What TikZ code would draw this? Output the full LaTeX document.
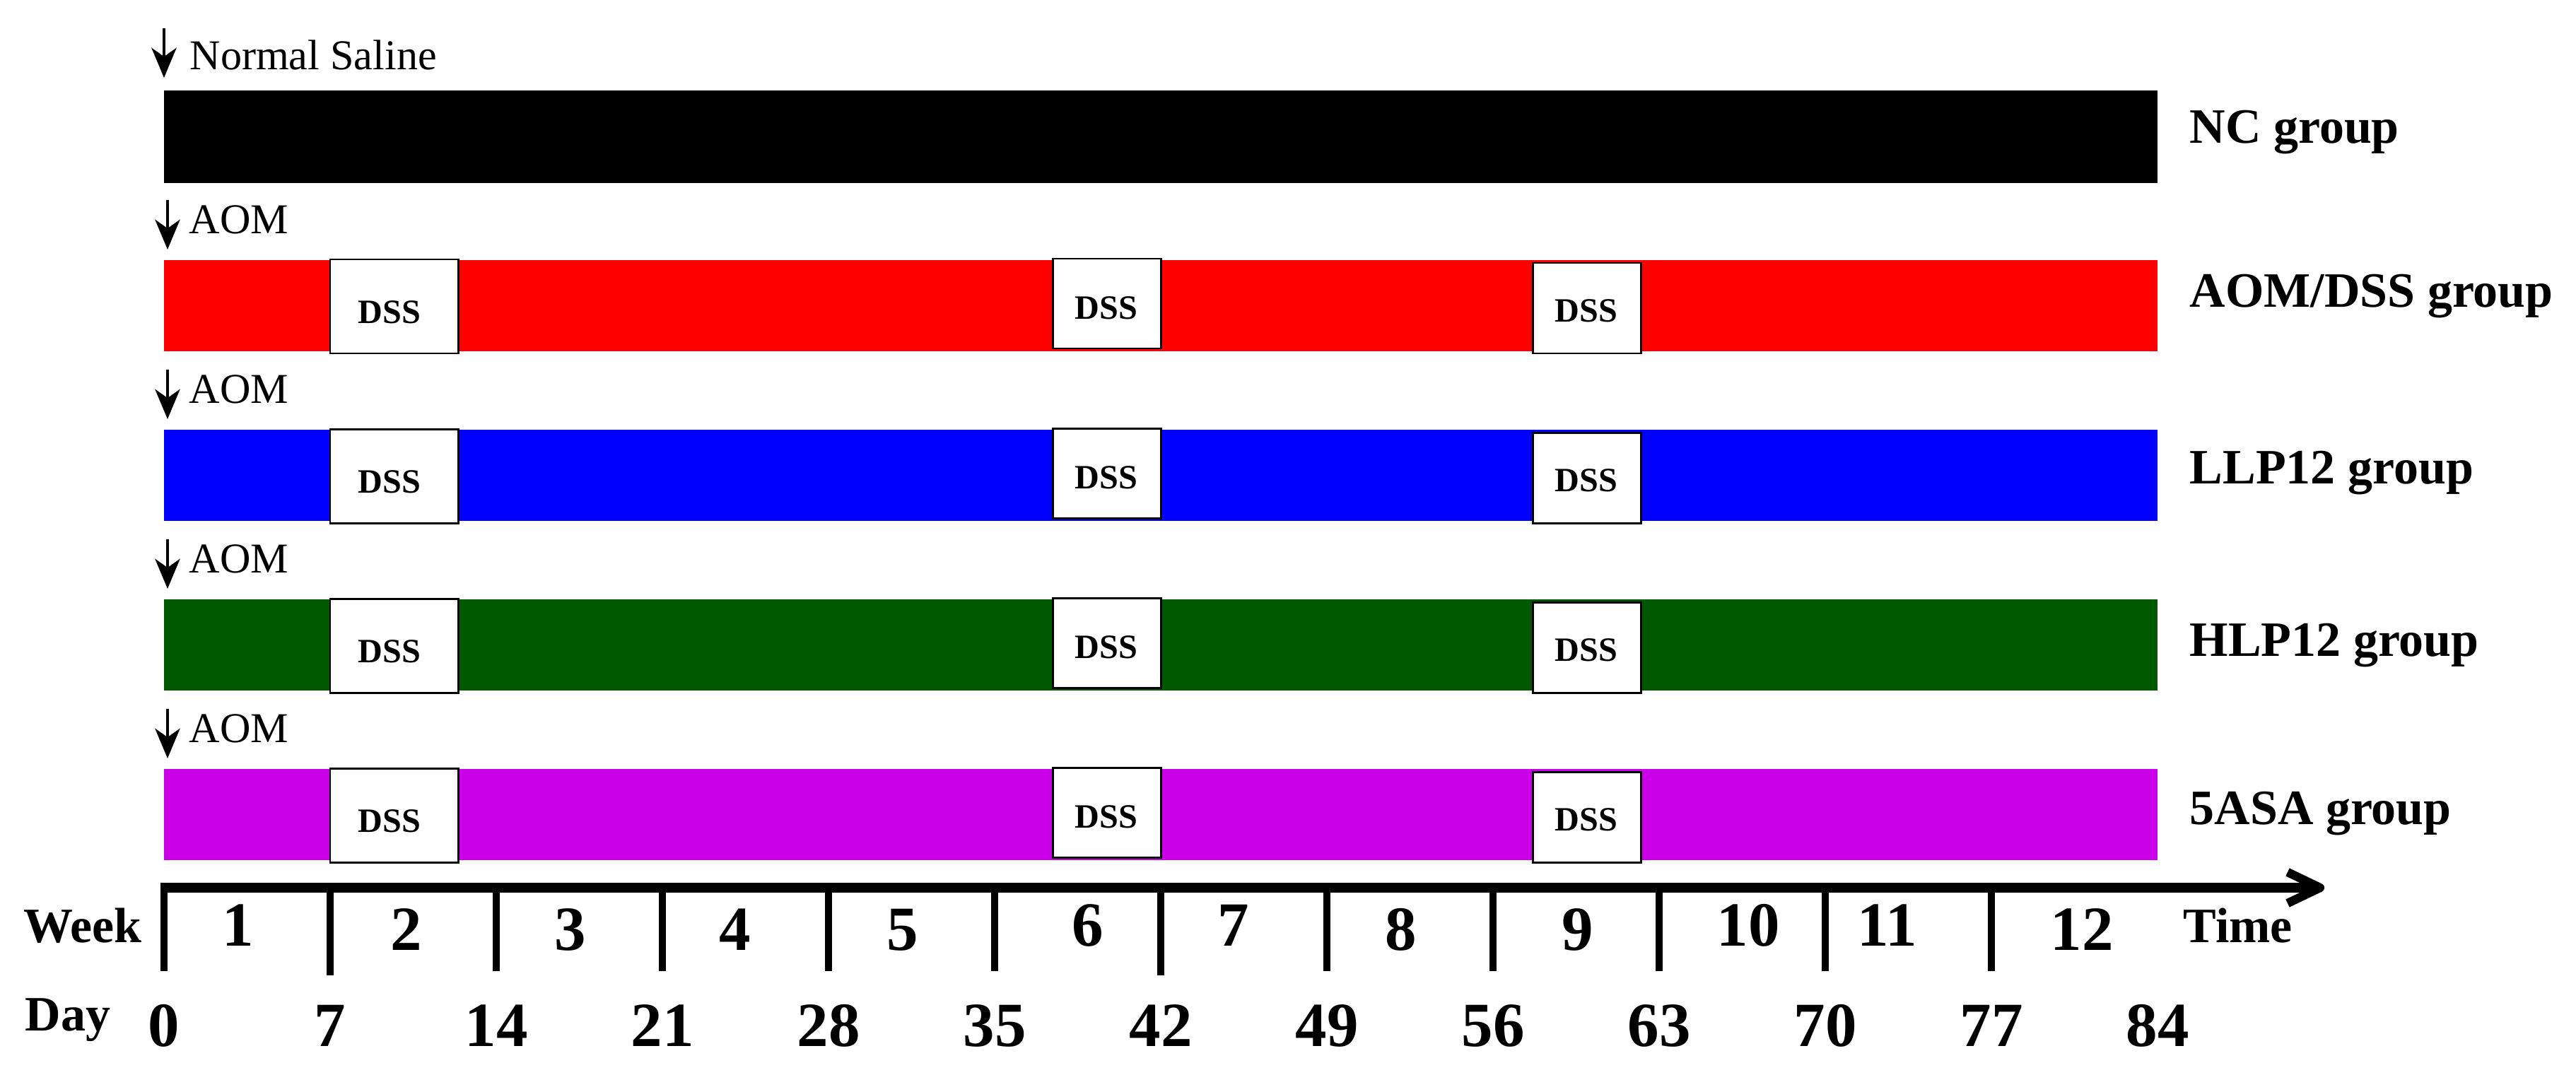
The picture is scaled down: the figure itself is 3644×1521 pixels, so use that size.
\documentclass[tikz,border=0pt]{standalone}
\usepackage{fontspec}
\setmainfont{Liberation Serif}
\usetikzlibrary{arrows.meta}
\definecolor{cred}{RGB}{255,0,0}
\definecolor{cblue}{RGB}{0,0,255}
\definecolor{cgreen}{RGB}{0,88,0}
\definecolor{cmag}{RGB}{204,0,232}
\begin{document}
\begin{tikzpicture}[x=0.01cm,y=-0.01cm,
  dssbox/.style={draw=black, fill=white, line width=0.85pt},
  dsstext/.style={inner sep=0pt, font=\fontsize{13.7}{16}\selectfont\bfseries},
  grouplab/.style={anchor=base west, inner sep=0pt, font=\fontsize{19.9}{24}\selectfont\bfseries},
  treatlab/.style={anchor=base west, inner sep=0pt, font=\fontsize{17.1}{20}\selectfont},
  dose/.style={line width=1.4pt, -{Stealth[length=12pt,width=10pt,inset=3.5pt]}},
  axnum/.style={anchor=base, inner sep=0pt, font=\fontsize{25.3}{30}\selectfont\bfseries},
  axname/.style={anchor=base west, inner sep=0pt, font=\fontsize{19.9}{24}\selectfont\bfseries},
  tickline/.style={line width=2.6pt},
]
\useasboundingbox (0,0) rectangle (3644,1521);

% NC row
\fill[black] (232,128) rectangle (3052,259);
\coordinate (nsA) at (232,40);
\coordinate (nsB) at (232,110);
\draw[dose] (nsA) -- (nsB);
\node[treatlab] (ns) at (268,98) {Normal Saline};
\node[grouplab] (gNC) at (3097,202) {NC group};

% AOM rows
\foreach \t/\col/\nm/\lab/\bo in {368/cred/r1/AOM\slash DSS group/66,
                                  608/cblue/r2/LLP12 group/76,
                                  848/cgreen/r3/HLP12 group/80,
                                  1088/cmag/r4/5ASA group/78}{
  \pgfmathsetmacro{\b}{\t+129}
  \fill[\col] (232,\t) rectangle (3052,\b);
  \coordinate (\nm aA) at (237,\t-85);
  \coordinate (\nm aB) at (237,\t-15);
  \draw[dose] (\nm aA) -- (\nm aB);
  \node[treatlab] (\nm aom) at (267,\t-38) {AOM};
  \node[grouplab] (\nm g) at (3097,\t+\bo) {\lab};
  % DSS boxes
  \draw[dssbox] (467,\t-1) rectangle (648,\b+3);
  \node[dsstext] (\nm d1) at (551,\t+74) {DSS};
  \draw[dssbox] (1489,\t-2) rectangle (1642,\b-4);
  \node[dsstext] (\nm d2) at (1565,\t+68) {DSS};
  \draw[dssbox] (2168,\t+4) rectangle (2321,\b+3);
  \node[dsstext] (\nm d3) at (2244,\t+72) {DSS};
}

% time axis
\coordinate (axL) at (227,1256);
\coordinate (axR) at (3276,1256);
\draw[line width=4pt] (axL) -- (axR);
\coordinate (hdA) at (3236,1234);
\coordinate (hdT) at (3282,1256);
\coordinate (hdB) at (3236,1278);
\draw[line width=3.5pt, line join=round] (hdA) -- (hdT) -- (hdB);

\foreach \k/\len in {0/1374,1/1380,2/1374,3/1374,4/1374,5/1374,6/1380,7/1374,8/1374,9/1374,10/1374,11/1374}{
  \pgfmathsetmacro{\xx}{232+235*\k}
  \coordinate (tkA\k) at (\xx,1250);
  \coordinate (tkB\k) at (\xx,\len);
  \draw[tickline] (tkA\k) -- (tkB\k);
}

\node[axname] (week) at (33,1333) {Week};
\node[axname] (day) at (35,1458) {Day};
\node[axname] (time) at (3088,1333) {Time};

\foreach \w/\xx/\yy in {1/337/1338, 2/575/1344, 3/807/1344, 4/1040/1344,
                        5/1277/1344, 6/1539/1338, 7/1745/1338, 8/1982/1344,
                        9/2232/1344, 10/2473/1338, 11/2670/1338, 12/2945/1344}{
  \node[axnum] (w\w) at (\xx,\yy) {\w};
}

\foreach \k in {0,...,12}{
  \pgfmathtruncatemacro{\dd}{7*\k}
  \pgfmathsetmacro{\xx}{232+235*\k}
  \node[axnum] (d\k) at (\xx,1480) {\dd};
}
\end{tikzpicture}
\end{document}
